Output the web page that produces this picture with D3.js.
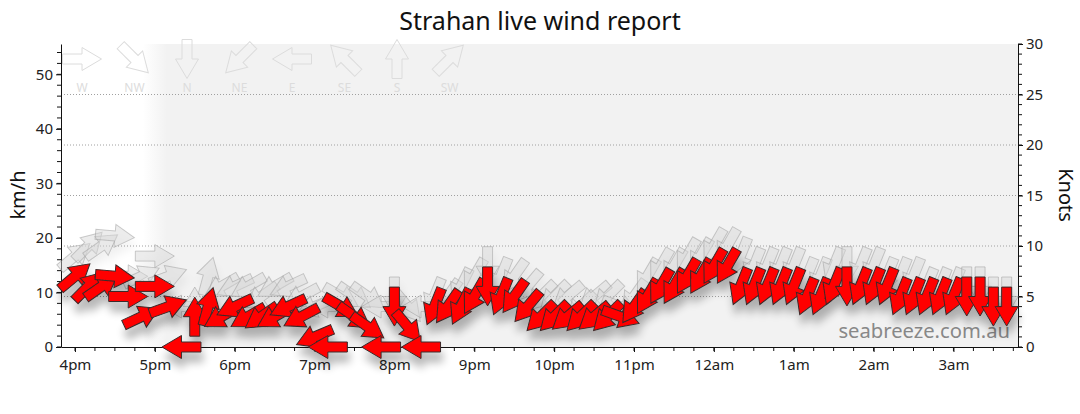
<!DOCTYPE html>
<html><head><meta charset="utf-8">
<script src="https://cdn.jsdelivr.net/npm/d3@7"></script>
<style>
body{margin:0;background:#fff}
svg{display:block;font-family:"Noto Sans",sans-serif}
</style>
</head><body>
<svg id="chart" width="1080" height="414"></svg>
<script>
// ---- data (speeds in knots, direction = where wind comes from, degrees) ----
const times = ["16:00","16:10","16:20","16:30","16:40","16:50","17:00","17:10","17:20","17:30","17:40","17:50",
"18:00","18:10","18:20","18:30","18:40","18:50","19:00","19:10","19:20","19:30","19:40","19:50",
"20:00","20:10","20:20","20:30","20:40","20:50","21:00","21:10","21:20","21:30","21:40","21:50",
"22:00","22:10","22:20","22:30","22:40","22:50","23:00","23:10","23:20","23:30","23:40","23:50",
"00:00","00:10","00:20","00:30","00:40","00:50","01:00","01:10","01:20","01:30","01:40","01:50",
"02:00","02:10","02:20","02:30","02:40","02:50","03:00","03:10","03:20","03:30","03:40"];
const avgKnots = [7,6,6,7,5,3,6,4,0,3,4,3,
4,3,3,3,4,3,1,0,4,3,2,0,
4,2,0,4,4,4,5,6,5,5,4,3,
3,3,3,3,3,3,4,5,6,6,7,7,
8,8,6,6,6,6,6,5,5,6,6,6,
6,6,5,5,5,5,5,5,5,4,4];
const gustKnots = [9,10,10,11,7,7,9,7,4,4,7,6,
6,6,5,6,6,5,4,4,5,5,5,4,
5,4,4,5,5,6,7,8,7,7,6,5,
5,5,4,5,5,4,5,7,8,8,9,9,
10,10,9,8,8,8,8,7,7,8,8,8,
8,7,7,7,6,6,6,6,6,5,5];
const dirDeg = [230,225,235,275,270,245,270,250,90,180,195,60,
65,60,55,60,65,62,67,90,300,305,305,90,
0,320,90,22,35,26,30,0,22,35,40,45,
45,50,45,50,45,290,35,30,30,30,30,30,
30,30,22,22,22,22,22,22,22,22,0,22,
22,22,22,22,22,22,22,0,0,0,0];

const compassLabels = ["W","NW","N","NE","E","SE","S","SW"];
const compassDirs = [270,315,0,45,90,135,180,225];
const kmhTicks = [0,10,20,30,40,50];
const knotTicks = [0,5,10,15,20,25,30];
const gridKnots = [5,10,15,20,25];
const hourTickTimes = ["16:00","17:00","18:00","19:00","20:00","21:00","22:00","23:00","00:00","01:00","02:00","03:00"];
const hourLabels = ["4pm","5pm","6pm","7pm","8pm","9pm","10pm","11pm","12am","1am","2am","3am"];
const nightStart = "17:00";
const KMH_PER_KNOT = 1.852;

// ---- helpers ----
const parseT = s => { const p = s.split(":").map(Number); const d = new Date(2024,0,1,p[0],p[1],p[2]||0); if (p[0] < 12) d.setDate(2); return d; };
const W = 1080, H = 414;
const L = 61, R = 1018, T = 44, B = 347;

const svg = d3.select("#chart");
const x = d3.scaleTime().domain([parseT("15:49:30"), parseT("03:48:30")]).range([L, R]);
const yKn = d3.scaleLinear().domain([0, 30]).range([B, T]);
const yKmh = d3.scaleLinear().domain([0, 30 * KMH_PER_KNOT]).range([B, T]);

// arrow symbol pointing down, centred on origin
const arrowPath = "M-5,-19.5L5,-19.5L5,0L11.5,0L0,19.5L-11.5,0L-5,0Z";

const defs = svg.append("defs");
const ns = parseT(nightStart);
const grad = defs.append("linearGradient").attr("id","night").attr("gradientUnits","userSpaceOnUse")
  .attr("x1", x(d3.timeMinute.offset(ns,-9))).attr("x2", x(d3.timeMinute.offset(ns,9))).attr("y1",0).attr("y2",0);
grad.append("stop").attr("offset",0).attr("stop-color","#ffffff");
grad.append("stop").attr("offset",1).attr("stop-color","#f2f2f2");

function shadow(id, op, dy, sd){
  const f = defs.append("filter").attr("id",id).attr("filterUnits","userSpaceOnUse")
    .attr("x",0).attr("y",0).attr("width",W).attr("height",H);
  f.append("feGaussianBlur").attr("in","SourceAlpha").attr("stdDeviation",sd).attr("result","b");
  f.append("feOffset").attr("in","b").attr("dx",2).attr("dy",dy).attr("result","o");
  f.append("feComponentTransfer").attr("in","o").attr("result","s")
    .append("feFuncA").attr("type","linear").attr("slope",op);
  const m = f.append("feMerge");
  m.append("feMergeNode").attr("in","s");
  m.append("feMergeNode").attr("in","SourceGraphic");
}
shadow("shRed", 0.28, 10, 4);
shadow("shGray", 0.10, 8, 4);

// background
svg.append("rect").attr("x",L).attr("y",T).attr("width",R-L).attr("height",B-T).attr("fill","url(#night)");

// grid
svg.append("g").selectAll("line").data(gridKnots).join("line")
  .attr("x1",L).attr("x2",R).attr("y1",d=>yKn(d)).attr("y2",d=>yKn(d))
  .attr("stroke","#a0a0a0").attr("stroke-width",1).attr("stroke-dasharray","1,2");

// compass legend
const lx = d3.scalePoint().domain(compassLabels).range([82, 449.5]);
const leg = svg.append("g");
leg.selectAll("path").data(compassLabels).join("path")
  .attr("d",arrowPath)
  .attr("transform",(d,i)=>`translate(${lx(d)},59) rotate(${compassDirs[i]})`)
  .attr("fill","none").attr("stroke","#dcdcdc").attr("stroke-width",1);
leg.selectAll("text").data(compassLabels).join("text")
  .attr("x",d=>lx(d)).attr("y",91.5).attr("text-anchor","middle")
  .attr("font-size",12).attr("fill","#dcdcdc").text(d=>d);

// axes
const axCol = "#222";
function styleAxis(g){
  g.selectAll(".domain").attr("stroke","#111");
  g.selectAll(".tick line").attr("stroke","#111");
  g.selectAll(".tick text").attr("fill",axCol).attr("font-size",15).attr("font-family","Noto Sans");
}
const gx = svg.append("g").attr("transform",`translate(0,${B})`)
  .call(d3.axisBottom(x).tickValues(hourTickTimes.map(parseT)).tickFormat((d,i)=>hourLabels[i]).tickSize(5).tickSizeOuter(0).tickPadding(7));
styleAxis(gx);
gx.selectAll(".minor").data(x.ticks(d3.timeMinute.every(15))).join("line")
  .attr("x1",d=>x(d)).attr("x2",d=>x(d)).attr("y1",0).attr("y2",4).attr("stroke","#111");

const gl = svg.append("g").attr("transform",`translate(${L},0)`)
  .call(d3.axisLeft(yKmh).tickValues(kmhTicks).tickSize(5).tickSizeOuter(0).tickPadding(3));
styleAxis(gl);
gl.selectAll(".minor").data(d3.range(0, 56, 2)).join("line")
  .attr("x1",-4).attr("x2",0).attr("y1",d=>yKmh(d)).attr("y2",d=>yKmh(d)).attr("stroke","#111");

const gr = svg.append("g").attr("transform",`translate(${R},0)`)
  .call(d3.axisRight(yKn).tickValues(knotTicks).tickSize(5).tickSizeOuter(0).tickPadding(3));
styleAxis(gr);
gr.selectAll(".minor").data(d3.range(0, 31, 1)).join("line")
  .attr("x1",0).attr("x2",4).attr("y1",d=>yKn(d)).attr("y2",d=>yKn(d)).attr("stroke","#111");

// watermark
svg.append("text").attr("x",1010).attr("y",337.5).attr("text-anchor","end")
  .attr("font-size",20.2).attr("fill","#888").text("seabreeze.com.au");

// data
const data = times.map((t,i)=>({t:parseT(t), avg:avgKnots[i], gust:gustKnots[i], dir:dirDeg[i]}));

svg.append("g").attr("filter","url(#shGray)").selectAll("path").data(data).join("path")
  .attr("d",arrowPath)
  .attr("transform",d=>`translate(${x(d.t)},${yKn(d.gust)}) rotate(${d.dir})`)
  .attr("fill","rgba(215,215,215,0.45)").attr("stroke","rgba(160,160,160,0.55)").attr("stroke-width",1);

svg.append("g").attr("filter","url(#shRed)").selectAll("path").data(data).join("path")
  .attr("d",arrowPath)
  .attr("transform",d=>`translate(${x(d.t)},${yKn(d.avg)}) rotate(${d.dir})`)
  .attr("fill","#ff0000").attr("stroke","#3a2a2a").attr("stroke-width",1);

// titles
svg.append("text").attr("x",540).attr("y",30).attr("text-anchor","middle")
  .attr("font-size",25).attr("fill","#111").text("Strahan live wind report");
svg.append("text").attr("transform","translate(25,195) rotate(-90)").attr("text-anchor","middle")
  .attr("font-size",20).attr("fill","#111").text("km/h");
svg.append("text").attr("transform","translate(1059,195) rotate(90)").attr("text-anchor","middle")
  .attr("font-size",20).attr("fill","#111").text("Knots");
</script>
</body></html>
